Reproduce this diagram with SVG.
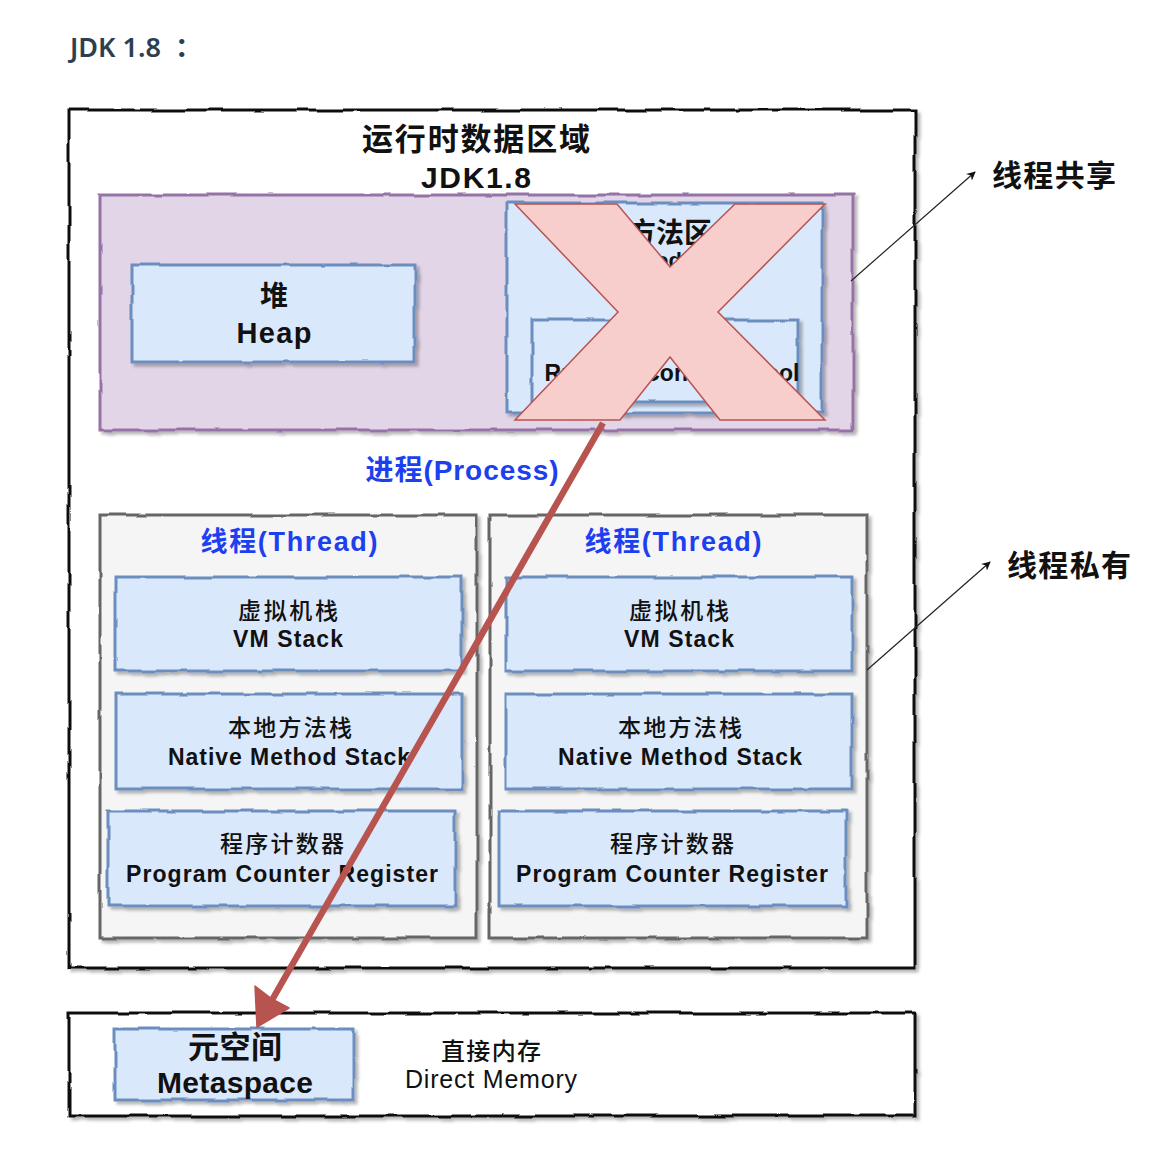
<svg xmlns="http://www.w3.org/2000/svg" width="1158" height="1170" viewBox="0 0 1158 1170">
<style>
text{font-family:"Liberation Sans","Noto Sans CJK SC",sans-serif;fill:#111}
.b{font-weight:bold}
.mid{text-anchor:middle}
.lbl{font-size:23px;font-weight:bold;text-anchor:middle}
.cjk{font-size:23px;text-anchor:middle;font-family:"Noto Sans CJK SC",sans-serif;font-weight:500}
.blue{fill:#1c3ff0;font-weight:bold;text-anchor:middle}
.outer{fill:#fff;stroke:#111;stroke-width:3}
.purple{fill:#e1d5e7;stroke:#9673a6;stroke-width:3}
.blueb{fill:#dae8fc;stroke:#6c8ebf;stroke-width:3}
.thread{fill:#f5f5f5;stroke:#666;stroke-width:3}
.thin{stroke:#222;stroke-width:1.2;fill:none}
</style>
<defs>
<filter id="sk" x="-5%" y="-8%" width="112%" height="118%">
<feTurbulence type="fractalNoise" baseFrequency="0.03" numOctaves="2" seed="4" result="n"/>
<feDisplacementMap in="SourceGraphic" in2="n" scale="4" xChannelSelector="R" yChannelSelector="G" result="d"/>
<feDropShadow in="d" dx="3" dy="3" stdDeviation="1.5" flood-color="#000" flood-opacity="0.28"/>
</filter>
<marker id="ah" viewBox="0 0 10 10" refX="9" refY="5" markerWidth="9" markerHeight="9" markerUnits="userSpaceOnUse" orient="auto">
<path d="M0,0 L10,5 L0,10 L3,5 z" fill="#111"/>
</marker>
</defs>

<text x="70" y="57" style="font-family:'Noto Sans','Noto Sans CJK SC',sans-serif;font-size:27px;font-weight:600;fill:#2c3e50">JDK 1.8<tspan x="175">：</tspan></text>

<g id="runtime-area">
<rect class="outer" x="69" y="110" width="846" height="858" filter="url(#sk)"/>
<text class="b mid" x="476" y="150" font-size="31" textLength="228">运行时数据区域</text>
<text class="b mid" x="476" y="188" font-size="30" textLength="110">JDK1.8</text>
</g>

<g id="shared-area">
<rect class="purple" x="100" y="195" width="753" height="235" filter="url(#sk)"/>
</g>

<g id="heap">
<rect class="blueb" x="132" y="265" width="283" height="97" filter="url(#sk)"/>
<text class="b mid" x="274" y="306" font-size="28">堆</text>
<text class="b mid" x="274" y="343" font-size="29" textLength="75">Heap</text>
</g>

<g id="method-area">
<rect class="blueb" x="507" y="203" width="315" height="210" filter="url(#sk)"/>
<text class="b mid" x="670" y="243" font-size="28">方法区</text>
<text class="b mid" x="670" y="268" font-size="22">Method Area</text>
</g>

<g id="runtime-constant-pool">
<rect class="blueb" x="532" y="320" width="266" height="82" filter="url(#sk)"/>
<text class="lbl" x="672" y="381" textLength="255">Runtime Constant Pool</text>
</g>

<g id="cross">
<polygon points="515,204 617,204 670,267 735,204 825,204 718,312 825,420 720,420 670,357 620,420 515,420 618,312" fill="#f8cecc" stroke="#b85450" stroke-width="1.5" stroke-linejoin="miter"/>
</g>

<g id="process-label">
<text class="blue" x="462" y="480" font-size="28" textLength="193">进程(Process)</text>
</g>

<g id="thread-left">
<rect class="thread" x="100" y="515" width="377" height="423" filter="url(#sk)"/>
<text class="blue" x="289" y="551" font-size="27" textLength="177">线程(Thread)</text>
</g>
<g id="vmstack-left">
<rect class="blueb" x="116" y="577" width="346" height="94" filter="url(#sk)"/>
<text class="cjk" x="288" y="619" textLength="100">虚拟机栈</text>
<text class="lbl" x="288" y="647" textLength="110">VM Stack</text>
</g>
<g id="native-left">
<rect class="blueb" x="116" y="694" width="346" height="95" filter="url(#sk)"/>
<text class="cjk" x="290" y="736" textLength="124">本地方法栈</text>
<text class="lbl" x="289" y="765" textLength="242">Native Method Stack</text>
</g>
<g id="pc-left">
<rect class="blueb" x="108" y="811" width="347" height="95" filter="url(#sk)"/>
<text class="cjk" x="282" y="852" textLength="124">程序计数器</text>
<text class="lbl" x="282" y="882" textLength="312">Program Counter Register</text>
</g>

<g id="thread-right">
<rect class="thread" x="490" y="515" width="377" height="423" filter="url(#sk)"/>
<text class="blue" x="673" y="551" font-size="27" textLength="177">线程(Thread)</text>
</g>
<g id="vmstack-right">
<rect class="blueb" x="506" y="577" width="346" height="94" filter="url(#sk)"/>
<text class="cjk" x="679" y="619" textLength="100">虚拟机栈</text>
<text class="lbl" x="679" y="647" textLength="110">VM Stack</text>
</g>
<g id="native-right">
<rect class="blueb" x="506" y="694" width="346" height="95" filter="url(#sk)"/>
<text class="cjk" x="680" y="736" textLength="124">本地方法栈</text>
<text class="lbl" x="680" y="765" textLength="244">Native Method Stack</text>
</g>
<g id="pc-right">
<rect class="blueb" x="499" y="811" width="347" height="95" filter="url(#sk)"/>
<text class="cjk" x="672" y="852" textLength="124">程序计数器</text>
<text class="lbl" x="672" y="882" textLength="312">Program Counter Register</text>
</g>

<g id="native-memory">
<rect class="outer" x="69" y="1013" width="846" height="103" filter="url(#sk)"/>
<text class="mid" x="491" y="1060" font-size="24" textLength="100" style="font-family:'Noto Sans CJK SC',sans-serif;font-weight:500">直接内存</text>
<text class="mid" x="491" y="1088" font-size="25" textLength="172">Direct Memory</text>
</g>

<g id="metaspace">
<rect class="blueb" x="115" y="1029" width="238" height="71" filter="url(#sk)"/>
<text class="b mid" x="235" y="1058" font-size="31" textLength="94">元空间</text>
<text class="b mid" x="235" y="1093" font-size="30" textLength="156">Metaspace</text>
</g>

<g id="side-labels">
<text class="b" x="992" y="186" font-size="30" textLength="124">线程共享</text>
<text class="b" x="1007" y="576" font-size="30" textLength="124">线程私有</text>
</g>

<g id="connectors">
<line class="thin" x1="851" y1="281" x2="975" y2="172" marker-end="url(#ah)"/>
<line class="thin" x1="867" y1="670" x2="990" y2="562" marker-end="url(#ah)"/>
<line x1="603" y1="423" x2="272" y2="1000" stroke="#b85450" stroke-width="6.5"/>
<polygon points="257,1027 255,986 272,999 289,1008" fill="#b85450" stroke="#b85450" stroke-width="1.5" stroke-linejoin="round"/>
</g>
</svg>
